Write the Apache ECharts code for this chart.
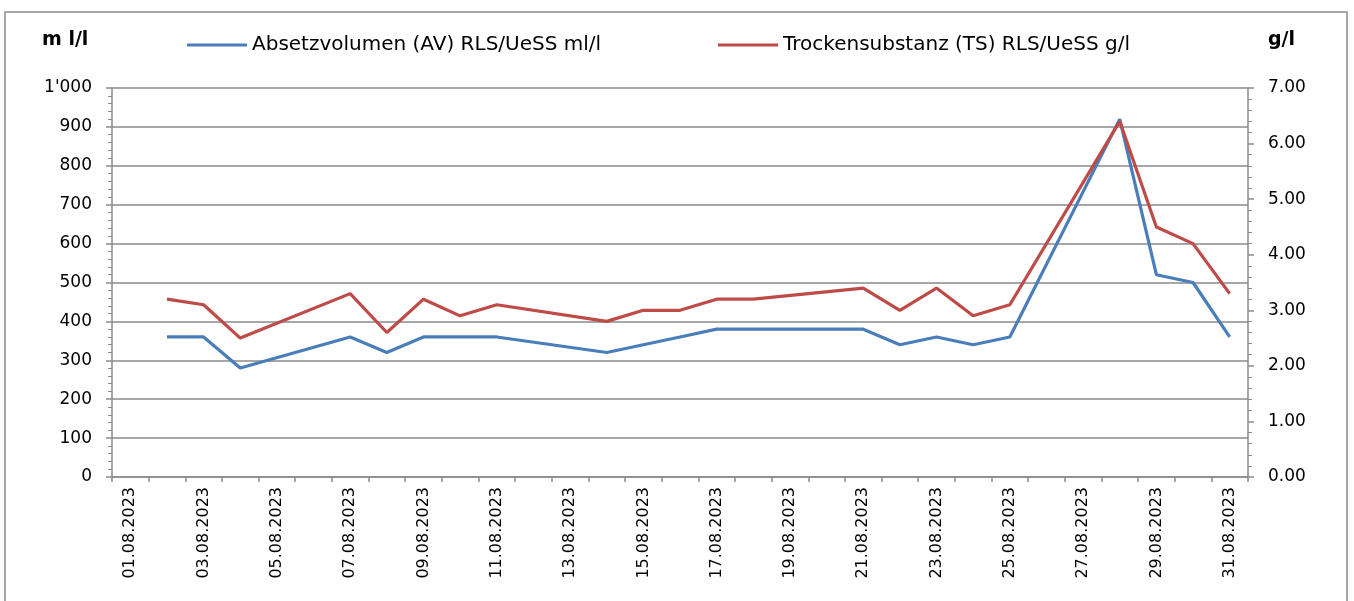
<!DOCTYPE html>
<html>
<head>
<meta charset="utf-8">
<script src="https://cdn.jsdelivr.net/npm/echarts@6/dist/echarts.min.js"></script>
<style>
  html, body { margin: 0; padding: 0; background: #fff; }
  #chart { width: 1354px; height: 601px; }
</style>
</head>
<body>
<div id="chart"></div>
<script>
// days of August 2023
const days = ['01.08.2023','02.08.2023','03.08.2023','04.08.2023','05.08.2023','06.08.2023','07.08.2023',
  '08.08.2023','09.08.2023','10.08.2023','11.08.2023','12.08.2023','13.08.2023','14.08.2023','15.08.2023',
  '16.08.2023','17.08.2023','18.08.2023','19.08.2023','20.08.2023','21.08.2023','22.08.2023','23.08.2023',
  '24.08.2023','25.08.2023','26.08.2023','27.08.2023','28.08.2023','29.08.2023','30.08.2023','31.08.2023']

// Absetzvolumen ml/l (null = no measurement)
const avValues = [null,360,360,280,null,null,360,320,360,360,360,null,null,320,340,
  360,380,380,null,null,380,340,360,340,360,null,null,920,520,500,360]
// Trockensubstanz g/l
const tsValues = [null,3.2,3.1,2.5,null,null,3.3,2.6,3.2,2.9,3.1,null,null,2.8,3.0,
  3.0,3.2,3.2,null,null,3.4,3.0,3.4,2.9,3.1,null,null,6.4,4.5,4.2,3.3]

const avName = 'Absetzvolumen (AV) RLS/UeSS ml/l'
const tsName = 'Trockensubstanz (TS) RLS/UeSS g/l'

const font = 'DejaVu Sans'
const gray = '#8a8a8a'

const chart = echarts.init(document.getElementById('chart'))

const legendBase = {
  top: 30,
  icon: 'rect',
  itemWidth: 60,
  itemHeight: 3,
  itemGap: 5,
  textStyle: { fontFamily: font, fontSize: 20, color: '#000' }
}

chart.setOption({
  animation: false,
  graphic: [
    { type: 'rect', shape: { x: 5, y: 12, width: 1342, height: 600 },
      style: { fill: 'none', stroke: gray, lineWidth: 1.5 }, silent: true },
    { type: 'text', left: 42, top: 31,
      style: { text: 'm l/l', font: 'bold 19px ' + font, fill: '#000' } },
    { type: 'text', left: 1268, top: 31,
      style: { text: 'g/l', font: 'bold 19px ' + font, fill: '#000' } }
  ],
  legend: [
    Object.assign({ left: 182, data: [avName] }, legendBase),
    Object.assign({ left: 713, data: [tsName] }, legendBase)
  ],
  grid: { left: 112, right: 106, top: 88, bottom: 124 },
  xAxis: {
    type: 'category',
    data: days,
    boundaryGap: true,
    axisLine: { lineStyle: { color: gray, width: 1.5 } },
    axisTick: { show: true, interval: 0, length: 5, lineStyle: { color: gray, width: 1.5 } },
    axisLabel: { interval: 1, rotate: 90, margin: 10, fontFamily: font, fontSize: 16, color: '#000' },
    splitLine: { show: false }
  },
  yAxis: [{
    type: 'value',
    min: 0, max: 1000, interval: 100,
    axisLine: { show: true, lineStyle: { color: gray, width: 1.5 } },
    axisTick: { show: true, length: 6, lineStyle: { color: gray, width: 1.5 } },
    minorTick: { show: true, splitNumber: 5, length: 4, lineStyle: { color: gray, width: 1 } },
    axisLabel: {
      margin: 20, fontFamily: font, fontSize: 17, color: '#000',
      formatter: v => v >= 1000 ? Math.floor(v / 1000) + "'" + String(v % 1000).padStart(3, '0') : String(v)
    },
    splitLine: { show: true, lineStyle: { color: gray, width: 1.5 } }
  }, {
    type: 'value',
    position: 'right',
    min: 0, max: 7, interval: 1,
    axisLine: { show: true, lineStyle: { color: gray, width: 1.5 } },
    axisTick: { show: true, length: 6, lineStyle: { color: gray, width: 1.5 } },
    minorTick: { show: true, splitNumber: 5, length: 4, lineStyle: { color: gray, width: 1 } },
    axisLabel: { margin: 20, fontFamily: font, fontSize: 17, color: '#000', formatter: v => v.toFixed(2) },
    splitLine: { show: false }
  }],
  series: [{
    name: avName,
    type: 'line',
    yAxisIndex: 0,
    data: avValues,
    connectNulls: true,
    symbol: 'none',
    lineStyle: { color: '#4a7ebb', width: 3.2 },
    itemStyle: { color: '#4a7ebb' }
  }, {
    name: tsName,
    type: 'line',
    yAxisIndex: 1,
    data: tsValues,
    connectNulls: true,
    symbol: 'none',
    lineStyle: { color: '#be4b48', width: 3.2 },
    itemStyle: { color: '#be4b48' }
  }]
})
</script>
</body>
</html>
